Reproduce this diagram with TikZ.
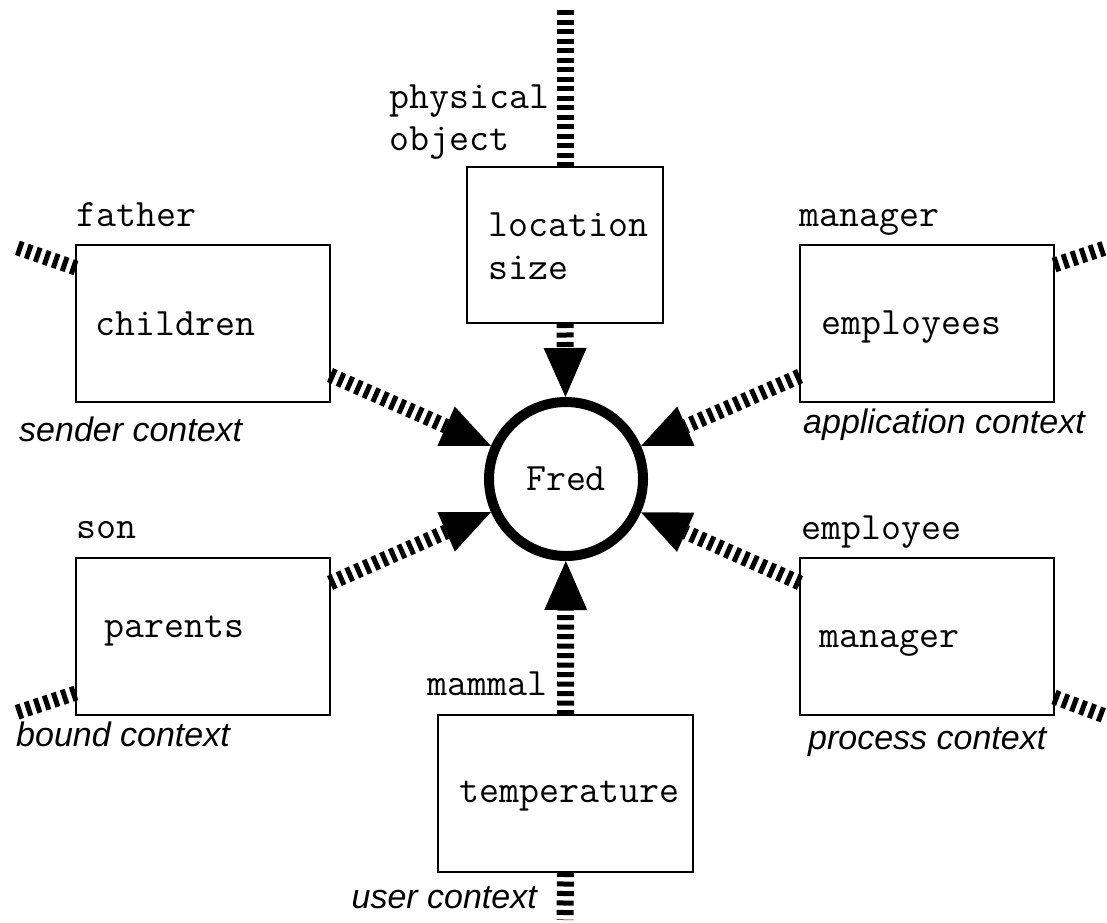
\documentclass[tikz,border=0pt]{standalone}
\usepackage{fontspec}
\setmainfont{Liberation Sans}
\usetikzlibrary{arrows.meta}

\begin{document}
\begin{tikzpicture}[x=1pt,y=-1pt,
  frame/.style={draw,line width=2.5pt,minimum width=254pt,minimum height=157pt,
    anchor=north west,inner sep=0pt,outer sep=0pt},
  mono/.style={font=\ttfamily\fontsize{38.8}{42}\selectfont,inner sep=0pt,anchor=base west},
  ital/.style={font=\itshape\fontsize{34}{40}\selectfont,inner sep=0pt,anchor=base west},
  hatch/.style={line width=15pt,dash pattern=on 5pt off 4.5pt},
  vhatch/.style={line width=17pt,dash pattern=on 5pt off 4.5pt},
  tip/.style={-{Triangle[length=49pt,width=43pt,line width=0pt]}}
]
\useasboundingbox (0,0) rectangle (1107,922);

% the object in the middle
\node[circle,draw,line width=10pt,minimum size=154pt,inner sep=0pt,outer sep=5pt,
      font=\ttfamily\fontsize{38.8}{42}\selectfont] (fred) at (566,479) {Fred};

% context boxes
\node[frame] (children) at (76,245) {};
\node[frame] (employees) at (800,245) {};
\node[frame] (parents) at (76,558) {};
\node[frame] (subordinate) at (800,558) {};
\node[frame,minimum width=196pt,minimum height=156pt] (location) at (467,167) {};
\node[frame,minimum width=255pt] (temperature) at (438,715) {};

% box contents
\node[mono] (tchildren) at (95,335) {children};
\node[mono] (temployees) at (821,334) {employees};
\node[mono] (tparents) at (104,637) {parents};
\node[mono] (tmanager) at (819,647) {manager};
\node[mono] (tlocation) at (488,236) {location};
\node[mono] (tsize) at (488,279) {size};
\node[mono] (ttemperature) at (459,802) {temperature};

% role names
\node[mono] (father) at (76,226) {father};
\node[mono] (manager) at (799,226) {manager};
\node[mono] (son) at (76,538) {son};
\node[mono] (employee) at (801,539) {employee};
\node[mono] (physical) at (389,108) {physical};
\node[mono] (object) at (389,150) {object};
\node[mono] (mammal) at (427,695) {mammal};

% context names
\node[ital] (sender) at (19,441) {sender context};
\node[ital] (application) at (803,433) {application context};
\node[ital] (bound) at (16,746) {bound context};
\node[ital] (process) at (808,749) {process context};
\node[ital,anchor=base east] (user) at (537,908) {user context};

% free ends of the outgoing links
\coordinate (topend) at (565,10);
\coordinate (bottomend) at (565,920);
\coordinate (fatherend) at (15,247);
\coordinate (boundend) at (15,713);
\coordinate (managerend) at (1105,248);
\coordinate (processend) at (1105,716);

% links into Fred
\draw[vhatch,tip] (location.south) -- (fred);
\draw[vhatch,tip] (temperature.north) -- (fred);
\draw[hatch,tip] ([yshift=-51.5pt]children.east) -- (fred);
\draw[hatch,tip] ([yshift=-52.5pt]employees.west) -- (fred);
\draw[hatch,tip] ([yshift=53.5pt]parents.east) -- (fred);
\draw[hatch,tip] ([yshift=53.5pt]subordinate.west) -- (fred);

% outgoing links
\draw[vhatch] (location.north) -- (topend);
\draw[vhatch] (temperature.south) -- (bottomend);
\draw[hatch] ([yshift=55.5pt]children.west) -- (fatherend);
\draw[hatch] ([yshift=-56.5pt]parents.west) -- (boundend);
\draw[hatch] ([yshift=58.5pt]employees.east) -- (managerend);
\draw[hatch] ([yshift=-60.5pt]subordinate.east) -- (processend);
\end{tikzpicture}
\end{document}
